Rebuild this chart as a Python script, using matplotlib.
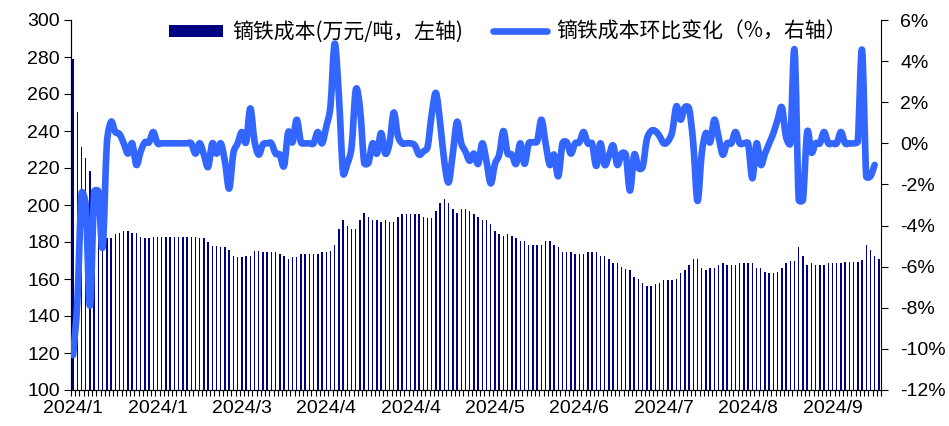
import numpy as np
import matplotlib
matplotlib.use("Agg")
import matplotlib.pyplot as plt
from matplotlib.path import Path
from matplotlib.patches import PathPatch, Patch
from matplotlib.lines import Line2D

plt.rcParams["font.family"] = ["Liberation Sans", "Noto Sans CJK SC", "DejaVu Sans"]

# 镝铁成本（万元/吨），按交易日
cost = [
    278.7, 250.5, 231.2, 225.4, 218.6, 201.4, 196.7, 192.0, 182.0, 182.0,
    184.2, 185.1, 186.1, 186.1, 185.1, 185.1, 182.9, 182.2, 182.2, 182.9,
    182.9, 182.9, 182.9, 182.9, 182.9, 182.9, 182.9, 182.9, 182.9, 182.9,
    182.3, 182.0, 180.2, 178.0, 178.0, 177.5, 177.1, 175.7, 172.4, 171.7,
    171.7, 172.4, 172.4, 175.3, 175.3, 174.4, 174.4, 174.4, 174.4, 173.5,
    172.4, 170.6, 171.7, 171.7, 173.5, 173.5, 173.5, 173.5, 173.5, 174.4,
    174.4, 175.3, 178.4, 186.9, 191.7, 188.8, 186.9, 186.9, 191.7, 195.5,
    193.7, 191.9, 191.9, 191.0, 191.9, 191.0, 191.0, 193.7, 195.1, 195.1,
    195.1, 195.1, 195.1, 193.7, 192.8, 192.8, 196.8, 201.3, 203.2, 201.3,
    197.7, 195.9, 197.7, 197.7, 196.6, 195.0, 193.7, 191.7, 191.7, 189.9,
    186.1, 184.3, 183.1, 184.3, 183.1, 182.2, 180.4, 180.4, 178.2, 178.2,
    178.2, 178.2, 180.4, 180.4, 178.2, 177.3, 174.6, 174.6, 174.6, 173.7,
    173.7, 173.7, 174.6, 174.6, 174.6, 172.4, 172.4, 170.6, 168.8, 168.8,
    166.7, 165.6, 164.9, 161.1, 160.2, 158.0, 156.2, 156.2, 157.1, 158.0,
    159.5, 159.5, 159.5, 160.2, 163.1, 164.9, 167.6, 170.8, 170.8, 165.8,
    164.9, 165.8, 165.8, 167.6, 168.6, 167.6, 167.6, 167.6, 168.6, 168.6,
    168.6, 168.6, 165.8, 165.8, 164.0, 163.1, 163.1, 163.9, 165.8, 168.5,
    169.7, 169.7, 177.5, 172.6, 167.6, 168.5, 167.6, 167.6, 167.6, 168.5,
    168.5, 168.5, 168.5, 169.4, 169.4, 169.4, 169.4, 170.3, 178.4, 175.7,
    172.4, 170.6,
]

# 镝铁成本环比变化（%），比成本序列少最后一期
mom = [
    -10.3, -7.7, -2.45, -3.0, -7.9, -2.35, -2.35, -5.05, 0.0, 1.05,
    0.55, 0.45, 0.0, -0.5, 0.0, -1.05, -0.4, 0.05, 0.05, 0.55,
    0.0, 0.0, 0.0, 0.0, 0.0, 0.0, 0.0, 0.0, 0.0, -0.5,
    0.0, -0.55, -1.15, 0.0, -0.5, 0.0, -0.9, -2.2, -0.45, 0.0,
    0.55, 0.05, 1.7, 0.1, -0.55, -0.05, 0.0, 0.0, -0.5, -0.55,
    -1.1, 0.55, 0.05, 1.15, 0.05, 0.0, 0.0, 0.0, 0.55, 0.0,
    0.8, 1.8, 4.85, 2.3, -1.45, -1.0, -0.2, 2.6, 1.7, -0.95,
    -0.95, 0.0, -0.5, 0.5, -0.5, 0.0, 1.5, 0.35, 0.0, 0.0,
    0.0, -0.1, -0.55, -0.4, -0.2, 1.4, 2.45, 1.0, -0.9, -1.9,
    -0.5, 1.05, 0.0, -0.4, -0.85, -0.5, -1.0, 0.0, -0.9, -1.95,
    -1.0, -0.55, 0.6, -0.5, -0.55, -1.0, 0.0, -1.0, 0.0, 0.05,
    0.1, 1.15, 0.0, -1.05, -0.55, -1.6, 0.0, 0.05, -0.5, 0.0,
    0.05, 0.55, 0.0, 0.0, -1.1, 0.0, -1.05, -0.6, -0.1, -1.05,
    -0.5, -0.55, -2.3, -0.55, -1.2, -1.15, 0.2, 0.6, 0.6, 0.35,
    0.0, 0.1, 0.55, 1.8, 1.15, 1.75, 1.7, 0.0, -2.8, -0.5,
    0.5, 0.05, 1.15, 0.3, -0.55, 0.0, 0.0, 0.55, 0.0, 0.0,
    0.0, -1.7, 0.0, -1.05, -0.5, 0.0, 0.5, 1.15, 1.75, 0.3,
    0.0, 4.55, -2.75, -2.75, 0.55, -0.45, 0.0, 0.0, 0.55, 0.0,
    0.0, 0.0, 0.55, 0.0, 0.0, 0.0, 0.1, 4.55, -1.6, -1.6,
    -1.05,
]

x_labels = ["2024/1", "2024/1", "2024/3", "2024/4", "2024/4",
            "2024/5", "2024/6", "2024/7", "2024/8", "2024/9"]
label_step = 20

bar_color = "#000080"
line_color = "#3366ff"
n = len(cost)
xs = list(range(n))

fig = plt.figure(figsize=(9.49, 4.26), dpi=100)
ax = fig.add_axes([71 / 949, 36 / 426, 810 / 949, 370 / 426])
ax.bar(xs, cost, width=0.34, color=bar_color, zorder=2)
ax.set_xlim(-0.5, n - 0.5)
ax.set_ylim(100, 300)
ax.set_yticks(range(100, 301, 20))

ax2 = ax.twinx()
ax2.set_ylim(-12, 6)
ax2.set_yticks(range(-12, 7, 2))
ax2.set_yticklabels([f"{v}%" for v in range(-12, 7, 2)])


def smooth_path(axis, xv, yv):
    """Bezier path through the points; control arms follow neighbouring
    points (1/6 tension) but never exceed half the segment length, measured
    on screen, so sharp spikes do not overshoot."""
    to_disp = axis.transData
    pts = to_disp.transform(np.column_stack([xv, yv]))
    m = len(pts)
    verts = [pts[0]]
    codes = [Path.MOVETO]
    for i in range(m - 1):
        p0 = pts[i - 1] if i > 0 else pts[i]
        p1, p2 = pts[i], pts[i + 1]
        p3 = pts[i + 2] if i + 2 < m else pts[i + 1]
        d12 = np.hypot(*(p2 - p1))
        d02 = np.hypot(*(p2 - p0))
        d13 = np.hypot(*(p3 - p1))
        f1 = 1 / 6 if d02 / 6 < d12 / 2 else (d12 / 2) / max(d02, 1e-9)
        f2 = 1 / 6 if d13 / 6 < d12 / 2 else (d12 / 2) / max(d13, 1e-9)
        verts += [p1 + (p2 - p0) * f1, p2 - (p3 - p1) * f2, p2]
        codes += [Path.CURVE4] * 3
    data_verts = to_disp.inverted().transform(np.array(verts))
    return Path(data_verts, codes)


ax2.add_patch(PathPatch(smooth_path(ax2, xs[:len(mom)], mom), facecolor="none",
                        edgecolor=line_color, linewidth=4.8,
                        capstyle="round", joinstyle="round", zorder=3))

# x axis: labels every 20 trading days, small ticks at each category boundary
ax.set_xticks(range(0, n, label_step))
ax.set_xticklabels(x_labels)
ax.set_xticks([i - 0.5 for i in range(n + 1)], minor=True)
ax.tick_params(axis="x", which="major", length=0, pad=7, labelsize=14)
ax.tick_params(axis="x", which="minor", length=4, width=0.8, direction="out")
ax.tick_params(axis="y", length=5, width=0.8, direction="out", labelsize=14, pad=3)
ax2.tick_params(axis="y", length=5, width=0.8, direction="out", labelsize=14, pad=9)

for a in (ax, ax2):
    a.spines["top"].set_visible(False)
    for s in a.spines.values():
        s.set_linewidth(0.8)
ax.spines["right"].set_visible(False)

handles = [Patch(facecolor=bar_color, edgecolor="none"),
           Line2D([], [], color=line_color, linewidth=4.8, solid_capstyle="round")]
labels = ["镝铁成本(万元/吨，左轴)", "镝铁成本环比变化（%，右轴）"]
fig.legend(handles, labels, loc="upper left", bbox_to_anchor=(169 / 949, 1 - 21 / 426),
           ncol=2, frameon=False, handlelength=2.6, handleheight=0.5,
           handletextpad=0.45, columnspacing=1.4, borderpad=0, borderaxespad=0,
           prop={"family": ["Noto Sans CJK SC", "DejaVu Sans"], "size": 15,
                 "weight": "light"})

fig.savefig("out.png", dpi=100)
